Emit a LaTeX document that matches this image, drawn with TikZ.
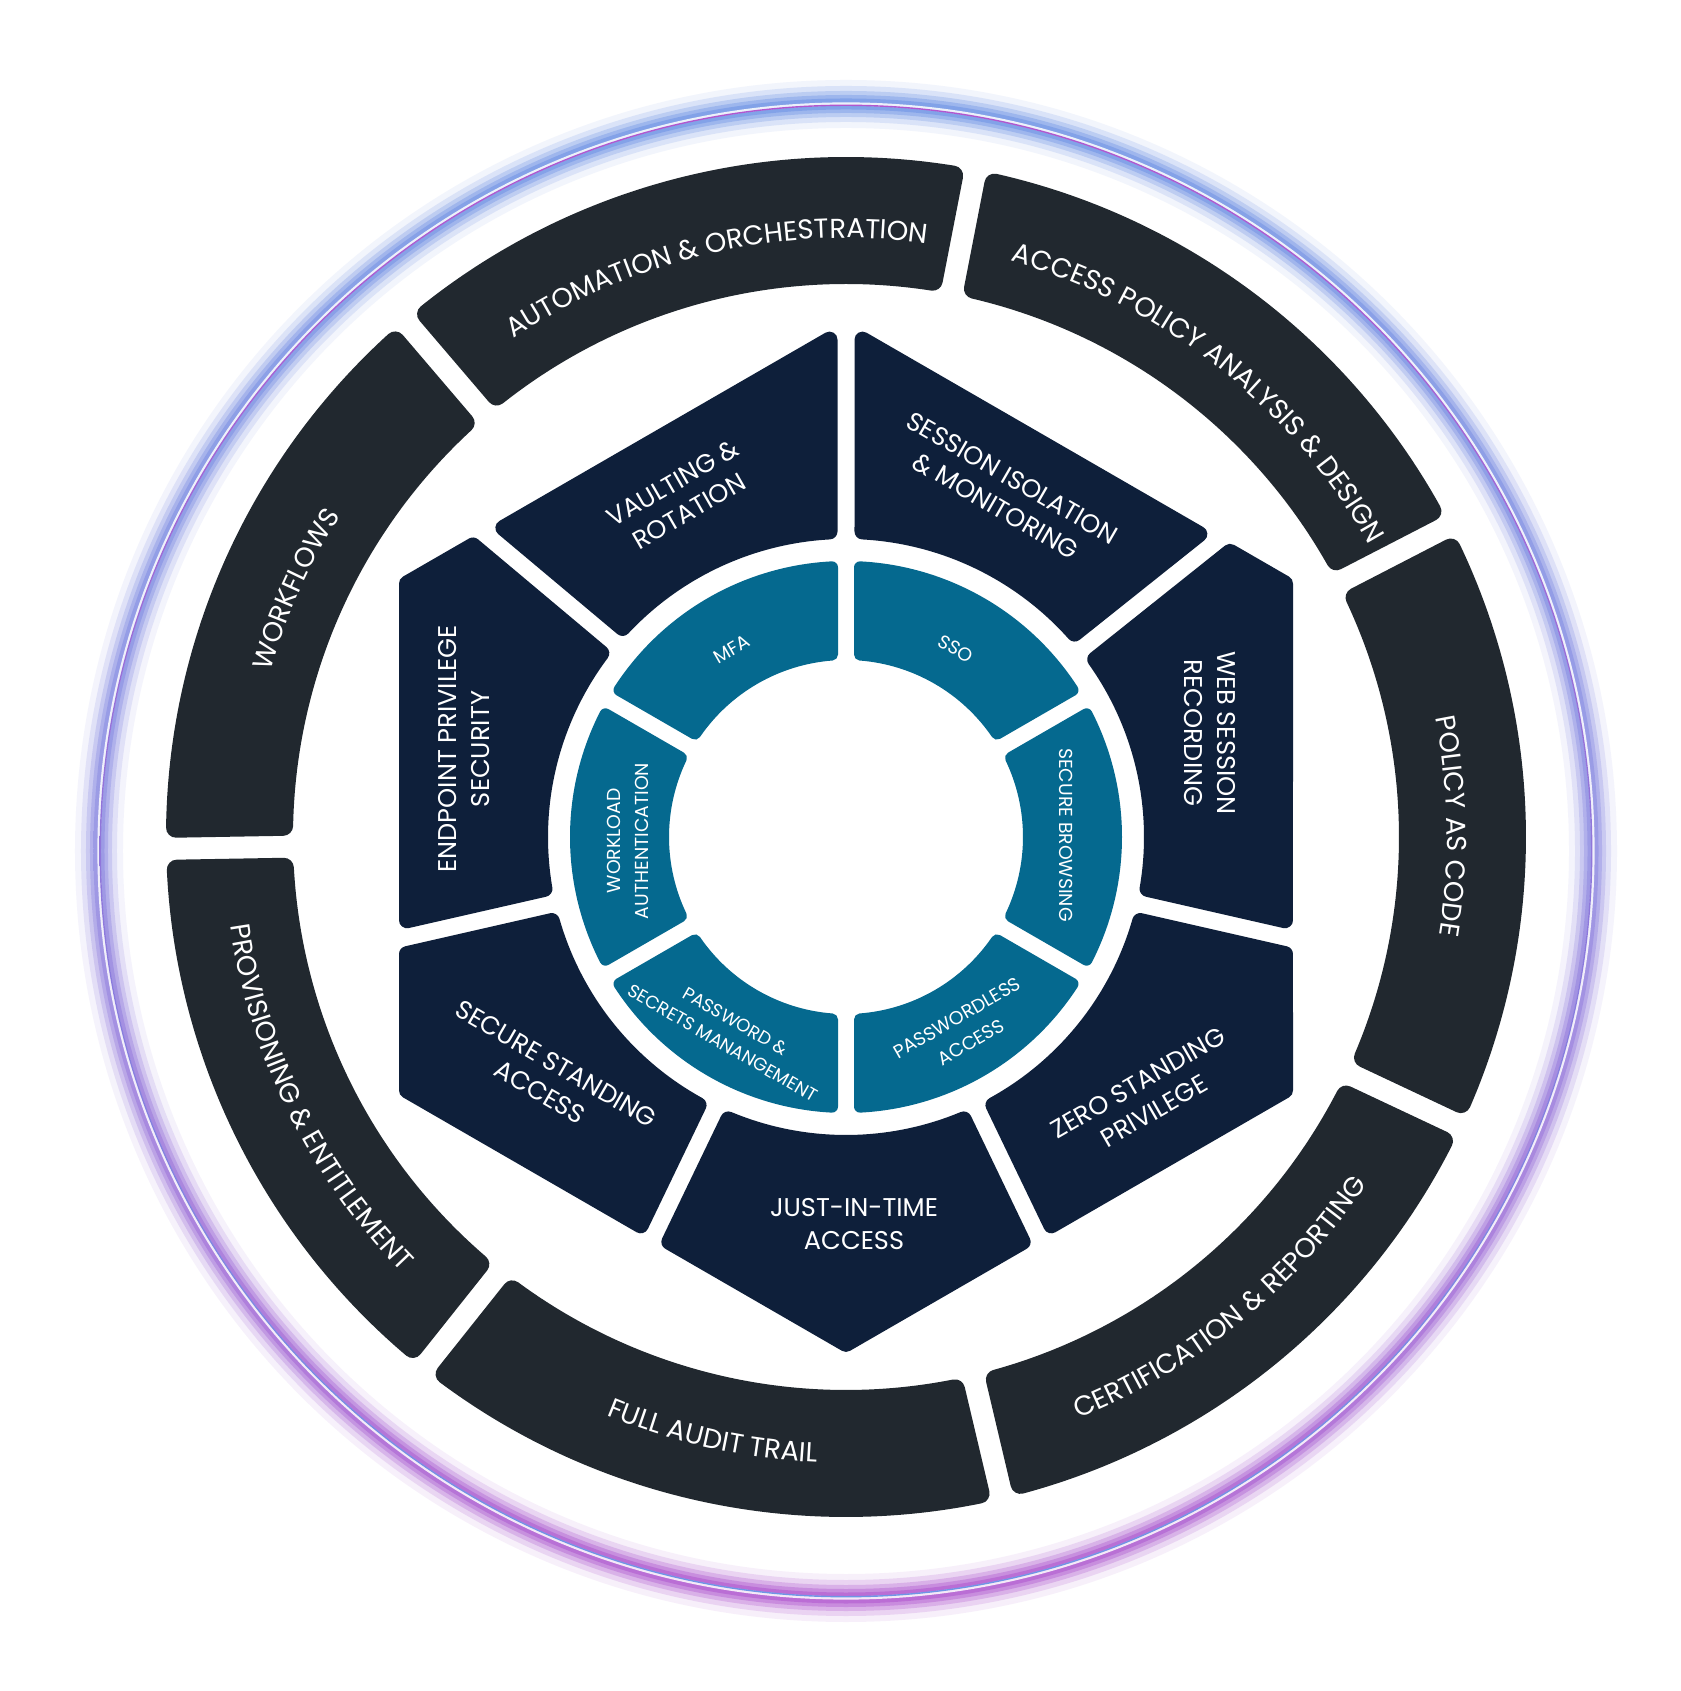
\documentclass[tikz,border=0pt]{standalone}
\usepackage{fontspec}
\setmainfont{Poppins}
\usepackage{tikz}
\usetikzlibrary{calc,decorations.text}

\definecolor{ringgray}{HTML}{21282F}
\definecolor{hexnavy}{HTML}{0E1F3A}
\definecolor{coreteal}{HTML}{05698F}
\definecolor{glowblue}{HTML}{6F95E6}
\definecolor{glowviolet}{HTML}{8F8CE2}
\definecolor{glowpurple}{HTML}{B157CF}

\newcommand\ringfont{\fontsize{7.8}{9.4}\selectfont}

\tikzset{
  outerseg/.style={fill=ringgray, draw=ringgray, line width=2mm, line join=round},
  midseg/.style={fill=hexnavy, draw=hexnavy, line width=1.6mm, line join=round},
  coreseg/.style={fill=coreteal, draw=coreteal, line width=1.2mm, line join=round},
  midlabel/.style={text=white, align=center, font=\fontsize{7.3}{9.2}\selectfont},
  corelabel/.style={text=white, align=center, font=\fontsize{5.35}{8}\selectfont},
  ringtext/.style={decorate, decoration={text along path, text align=center,
      text color=white, text={|\ringfont|#1}}}
}

\begin{document}
\begin{tikzpicture}[x=0.1mm, y=0.1mm]

\fill[white] (-846,-854) rectangle (834,837);
\useasboundingbox (-846,-854) rectangle (834,837);

\coordinate (o) at (0,0);
\coordinate (glow) at (0,-14);

% glow ring
\foreach \w/\op in {24/0.09, 18/0.18, 13/0.28, 9/0.40, 5.5/0.58} {
  \shade[top color=glowblue, bottom color=glowpurple, middle color=glowviolet,
    opacity=\op, even odd rule]
    (glow) circle[radius=747+\w] (glow) circle[radius=747-\w];
}
\fill[white, opacity=0.85, even odd rule] (glow) circle[radius=748.6] (glow) circle[radius=745.4];
\shade[top color=glowpurple, bottom color=glowblue, even odd rule]
  (glow) circle[radius=746.4] (glow) circle[radius=745];

% outer ring
\foreach \bs/\be in {27.3/79, -25.2/27.3, -76.7/-25.2, -128.5/-76.7,
    -179/-128.5, -229.5/-179, -281/-229.5} {
  \pgfmathsetmacro\pa{\be-asin(21/670)}
  \pgfmathsetmacro\pb{\bs+asin(21/670)}
  \pgfmathsetmacro\pc{\bs+asin(21/563)}
  \pgfmathsetmacro\pd{\be-asin(21/563)}
  \path[outerseg] (\pa:670) arc[start angle=\pa, end angle=\pb, radius=670]
    -- (\pc:563) arc[start angle=\pc, end angle=\pd, radius=563] -- cycle;
}

\path[ringtext={AUTOMATION {\&} ORCHESTRATION}] (143:599) arc[start angle=143, end angle=63, radius=599];
\path[ringtext={ACCESS POLICY ANALYSIS {\&} DESIGN}] (91.6:599) arc[start angle=91.6, end angle=11.6, radius=599];
\path[ringtext={POLICY AS CODE}] (41.05:601) arc[start angle=41.05, end angle=-38.95, radius=601];
\path[ringtext={WORKFLOWS}] (195.75:599) arc[start angle=195.75, end angle=115.75, radius=599];
\path[ringtext={CERTIFICATION {\&} REPORTING}] (-90.95:626) arc[start angle=-90.95, end angle=-10.95, radius=626];
\path[ringtext={FULL AUDIT TRAIL}] (-142.6:626) arc[start angle=-142.6, end angle=-62.6, radius=626];
\path[ringtext={PROVISIONING {\&} ENTITLEMENT}] (-193.75:622) arc[start angle=-193.75, end angle=-113.75, radius=622];

% hexagon ring
\foreach \aa/\ea/\ab/\eb/\va/\vr in {
    38.571/60/90/60/60/439,
    -12.857/0/38.571/60/30/506.9,
    -64.286/-60/-12.857/0/-30/506.9,
    -115.714/-120/-64.286/-60/-90/506.9,
    -167.143/-180/-115.714/-120/-150/506.9,
    140/120/192.857/180/150/506.9,
    90/120/140/120/120/439} {
  \pgfmathsetmacro\ta{(439+16.5*sin((\aa)-(\ea)))/cos((\aa)-(\ea))}
  \pgfmathsetmacro\tb{(439-16.5*sin((\ab)-(\eb)))/cos((\ab)-(\eb))}
  \pgfmathsetmacro\sa{\aa+asin(16.5/306)}
  \pgfmathsetmacro\sb{\ab-asin(16.5/306)}
  \path[midseg] ($(\aa:\ta)+(\aa+90:16.5)$) -- (\sa:306)
    arc[start angle=\sa, end angle=\sb, radius=306]
    -- ($(\ab:\tb)+(\ab-90:16.5)$) -- (\va:\vr) -- cycle;
}

\node[midlabel, rotate=-30] (sess) at (158,345) {SESSION ISOLATION\\\& MONITORING};
\node[midlabel, rotate=30] (vault) at (-165,340) {VAULTING \&\\ROTATION};
\node[midlabel, rotate=-90] (websess) at (364,104) {WEB SESSION\\RECORDING};
\node[midlabel, rotate=30] (zsp) at (300,-260) {ZERO STANDING\\PRIVILEGE};
\node[midlabel] (jit) at (8,-387) {JUST-IN-TIME\\ACCESS};
\node[midlabel, rotate=-30] (ssa) at (-298,-241) {SECURE STANDING\\ACCESS};
\node[midlabel, rotate=90] (eps) at (-382,88) {ENDPOINT PRIVILEGE\\SECURITY};

% core ring
\foreach \c in {120,60,0,-60,-120,180} {
  \pgfmathsetmacro\pa{\c+30-asin(14/270)}
  \pgfmathsetmacro\pb{\c-30+asin(14/270)}
  \pgfmathsetmacro\pc{\c-30+asin(14/183)}
  \pgfmathsetmacro\pd{\c+30-asin(14/183)}
  \path[coreseg] (\pa:270) arc[start angle=\pa, end angle=\pb, radius=270]
    -- (\pc:183) arc[start angle=\pc, end angle=\pd, radius=183] -- cycle;
}

\node[corelabel, rotate=30] (mfa) at (-114,188) {MFA};
\node[corelabel, rotate=-30] (sso) at (110,188) {SSO};
\node[corelabel, rotate=-90] (browse) at (220,2) {SECURE BROWSING};
\node[corelabel, rotate=30] (pwless) at (118,-193) {PASSWORDLESS\\ACCESS};
\node[corelabel, rotate=-30, font=\fontsize{5.15}{7.2}\selectfont] (pwsec) at (-117,-195) {PASSWORD \&\\SECRETS MANANGEMENT};
\node[corelabel, rotate=90] (workload) at (-218,-4) {WORKLOAD\\AUTHENTICATION};

\end{tikzpicture}
\end{document}
